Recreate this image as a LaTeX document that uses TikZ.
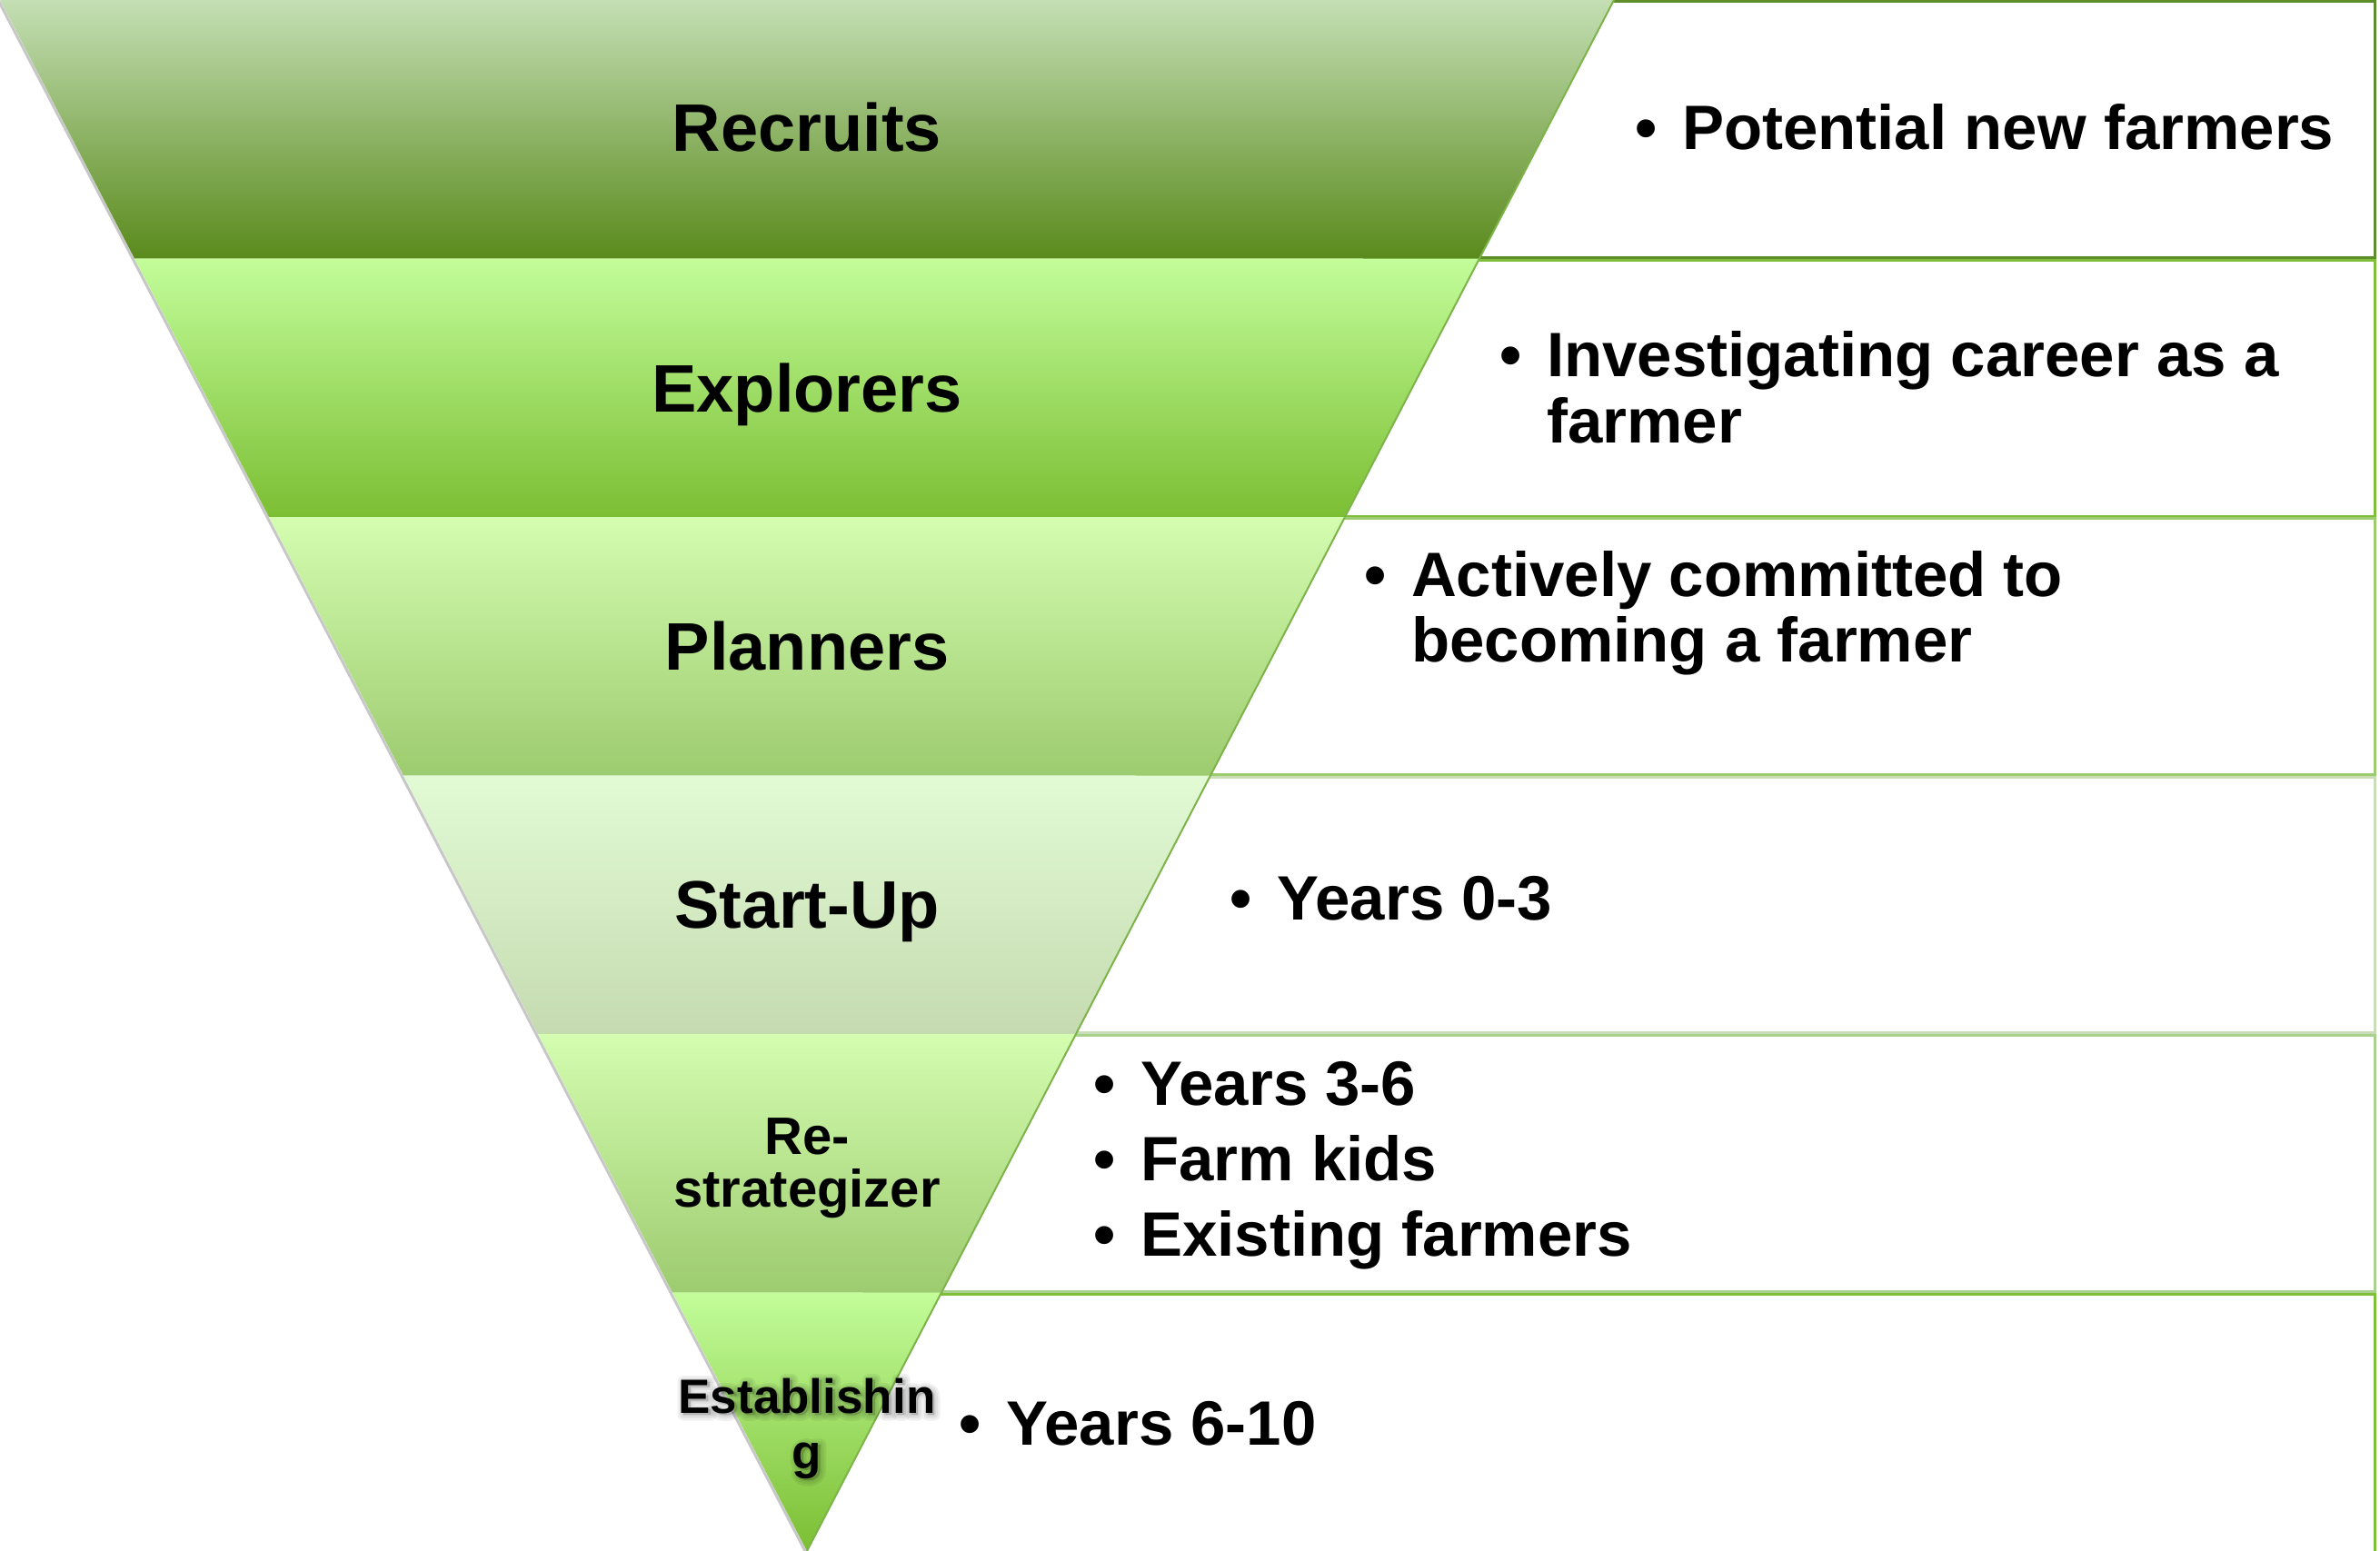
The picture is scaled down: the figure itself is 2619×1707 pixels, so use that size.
\documentclass[tikz,border=0pt]{standalone}
\usepackage{fontspec}
\setmainfont{Liberation Sans}
\definecolor{b1t}{HTML}{C4DFB4}
\definecolor{b1m}{HTML}{9CC083}
\definecolor{b1b}{HTML}{5A8A1C}
\definecolor{b2t}{HTML}{C2FD9A}
\definecolor{b2m}{HTML}{A4E06F}
\definecolor{b2b}{HTML}{7CBE33}
\definecolor{b3t}{HTML}{D4FDB0}
\definecolor{b3m}{HTML}{BCE693}
\definecolor{b3b}{HTML}{9DCB6F}
\definecolor{b4t}{HTML}{E2FBD5}
\definecolor{b4m}{HTML}{D6EBC6}
\definecolor{b4b}{HTML}{C5DAB0}
\definecolor{bx1}{HTML}{5E8E2C}
\definecolor{bx2}{HTML}{7EBE3A}
\definecolor{bx3}{HTML}{9DCB6F}
\definecolor{bx4}{HTML}{C9DDB7}
\definecolor{bx5}{HTML}{A9D18E}
\definecolor{bx6}{HTML}{7DBF35}
\definecolor{edgeg}{HTML}{7DB44A}
\newcommand{\mybullet}{\llap{\textbullet\hspace{28pt}}}
\newcommand{\softshadow}[1]{\rlap{\special{pdf:literal direct 2 Tr 13 w 1 j 1 J 0 G}#1}\rlap{\special{pdf:literal direct 2 Tr 8 w}#1}\special{pdf:literal direct 2 Tr 3 w}#1\special{pdf:literal direct 0 Tr}}
\begin{document}
\begin{tikzpicture}[x=1pt,y=-1pt,
  lbl/.style={inner sep=0pt, anchor=base, font=\bfseries\fontsize{74}{74}\selectfont},
  lblsmall/.style={inner sep=0pt, anchor=base, font=\bfseries\fontsize{58}{58}\selectfont},
  lbltiny/.style={inner sep=0pt, anchor=base, font=\bfseries\fontsize{53}{53}\selectfont},
  glow/.style={lbltiny, text=black, opacity=0.06, shift={(2,2)}},
  desc/.style={inner sep=0pt, anchor=base west, font=\bfseries\fontsize{69}{72}\selectfont},
  boxline/.style={line width=3pt, line join=miter}]
\useasboundingbox (0,0) rectangle (2619,1707);
\fill[white] (0,0) rectangle (2619,1707);
% right-hand boxes (left side hidden behind the funnel)
\draw[boxline, draw=bx1] (1500,2) -- (2613,2) -- (2613,283.5) -- (1500,283.5);
\draw[boxline, draw=bx2] (1400,286) -- (2613,286) -- (2613,568) -- (1400,568);
\draw[boxline, draw=bx3] (1250,570.5) -- (2613,570.5) -- (2613,852.5) -- (1250,852.5);
\draw[boxline, draw=bx4] (1100,855) -- (2613,855) -- (2613,1136.5) -- (1100,1136.5);
\draw[boxline, draw=bx5] (950,1139.5) -- (2613,1139.5) -- (2613,1421) -- (950,1421);
\draw[boxline, draw=bx6] (1000,1424) -- (2613,1424) -- (2613,1712);
% shadow of left edge
\draw[line width=3pt, black!22] (-2,0) -- (886,1707);
% funnel bands
\shade[top color=b1t, middle color=b1m, bottom color=b1b] (0,0) -- (1776,0) -- (1628,284.5) -- (148,284.5) -- cycle;
\shade[top color=b2t, middle color=b2m, bottom color=b2b] (148,284.5) -- (1628,284.5) -- (1480,569) -- (296,569) -- cycle;
\shade[top color=b3t, middle color=b3m, bottom color=b3b] (296,569) -- (1480,569) -- (1332,853.5) -- (444,853.5) -- cycle;
\shade[top color=b4t, middle color=b4m, bottom color=b4b] (444,853.5) -- (1332,853.5) -- (1184,1138) -- (592,1138) -- cycle;
\shade[top color=b3t, middle color=b3m, bottom color=b3b] (592,1138) -- (1184,1138) -- (1036,1422.5) -- (740,1422.5) -- cycle;
\shade[top color=b2t, middle color=b2m, bottom color=b2b] (740,1422.5) -- (1036,1422.5) -- (888,1707) -- cycle;
\draw[line width=2pt, edgeg] (1776,0) -- (888,1707);
% band labels
\node[lbl] (l1) at (888,167) {Recruits};
\node[lbl] (l2) at (888,453) {Explorers};
\node[lbl] (l3) at (888,737) {Planners};
\node[lbl] (l4) at (888,1021) {Start-Up};
\node[lblsmall] (l5a) at (888,1270) {Re-};
\node[lblsmall] (l5b) at (888,1328) {strategizer};
\node[glow] (s6a) at (888,1555) {\softshadow{Establishin}};
\node[glow] (s6b) at (888,1616) {\softshadow{g}};
\node[lbltiny] (l6a) at (888,1555) {Establishin};
\node[lbltiny] (l6b) at (888,1616) {g};
% descriptions
\node[desc] (d1) at (1851,165) {\mybullet Potential new farmers};
\node[desc] (d2a) at (1702,414) {\mybullet Investigating career as a};
\node[desc] (d2b) at (1702,487) {farmer};
\node[desc] (d3a) at (1553,656) {\mybullet Actively committed to};
\node[desc] (d3b) at (1553,728) {becoming a farmer};
\node[desc] (d4) at (1405,1012) {\mybullet Years 0-3};
\node[desc] (d5a) at (1255,1216) {\mybullet Years 3-6};
\node[desc] (d5b) at (1255,1299) {\mybullet Farm kids};
\node[desc] (d5c) at (1255,1382) {\mybullet Existing farmers};
\node[desc] (d6) at (1107,1590) {\mybullet Years 6-10};
\end{tikzpicture}
\end{document}
